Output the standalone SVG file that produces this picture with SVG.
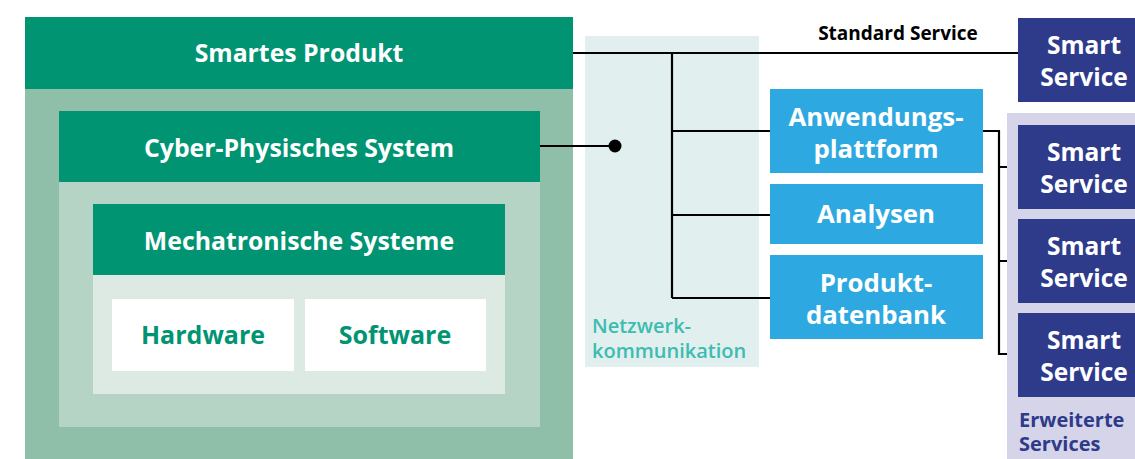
<svg xmlns="http://www.w3.org/2000/svg" width="1135" height="459" viewBox="0 0 1135 459">
  <style>
    .t { font-family: "Open Sans", "Noto Sans", "Liberation Sans", sans-serif; font-weight: 700; text-anchor: middle; }
    .w { fill: #ffffff; font-size: 24.8px; }
    .g { fill: #009473; font-size: 25px; }
    .b { fill: #ffffff; font-size: 25.8px; }
    .s { fill: #ffffff; font-size: 24.5px; }
    .lbl { font-family: "Open Sans", "Noto Sans", "Liberation Sans", sans-serif; font-weight: 700; font-size: 20px; }
    .wire { fill: none; stroke: #000000; stroke-width: 2.2; }
  </style>
  <rect width="1135" height="459" fill="#ffffff"/>

  <!-- smart product stack -->
  <g id="smartes-produkt">
    <rect x="25" y="89" width="548" height="370" fill="#8fbfa8"/>
    <rect x="25" y="17" width="548" height="72" fill="#009473"/>
    <text class="t w" x="299" y="62">Smartes Produkt</text>
  </g>
  <g id="cps">
    <rect x="59" y="182" width="481" height="245" fill="#b6d4c6"/>
    <rect x="59" y="111" width="481" height="71" fill="#009473"/>
    <text class="t w" x="299" y="157">Cyber-Physisches System</text>
  </g>
  <g id="mechatronik">
    <rect x="93" y="275" width="412" height="119" fill="#dde9e3"/>
    <rect x="93" y="204" width="412" height="71" fill="#009473"/>
    <text class="t w" x="299" y="250">Mechatronische Systeme</text>
  </g>
  <g id="hardware">
    <rect x="112" y="299" width="182" height="72" fill="#ffffff"/>
    <text class="t g" x="203" y="344">Hardware</text>
  </g>
  <g id="software">
    <rect x="305" y="299" width="181" height="72" fill="#ffffff"/>
    <text class="t g" x="395" y="344">Software</text>
  </g>

  <!-- network band -->
  <g id="netzwerk">
    <rect x="585" y="36" width="174" height="331" fill="#e1efef"/>
    <text class="lbl" x="592" y="333" style="fill:#3dbcb0;font-weight:600">Netzwerk-</text>
    <text class="lbl" x="592" y="358" style="fill:#3dbcb0;font-weight:600">kommunikation</text>
  </g>

  <!-- connectors -->
  <g id="connectors">
    <path class="wire" d="M573 53 H1018"/>
    <path class="wire" d="M672 53 V298"/>
    <path class="wire" d="M672 131 H770 M672 215 H770 M672 298 H770"/>
    <path class="wire" d="M540 146 H615"/>
    <circle cx="615" cy="146" r="6.5" fill="#000000"/>
    <path class="wire" d="M983 131 H999 V354 H1018 M999 167 H1018 M999 261 H1018"/>
    <text class="lbl" x="898" y="40" style="font-size:19px;fill:#000000;text-anchor:middle">Standard Service</text>
  </g>

  <!-- platform services -->
  <g id="anwendungsplattform">
    <rect x="770" y="89" width="213" height="84" fill="#2ea8e1"/>
    <text class="t b" x="876" y="126">Anwendungs-</text>
    <text class="t b" x="876" y="158">plattform</text>
  </g>
  <g id="analysen">
    <rect x="770" y="184" width="213" height="60" fill="#2ea8e1"/>
    <text class="t b" x="876" y="223">Analysen</text>
  </g>
  <g id="produktdatenbank">
    <rect x="770" y="255" width="213" height="84" fill="#2ea8e1"/>
    <text class="t b" x="876" y="292">Produkt-</text>
    <text class="t b" x="876" y="324">datenbank</text>
  </g>

  <!-- smart services -->
  <g id="smart-service-standard">
    <rect x="1018" y="18" width="117" height="84" fill="#2e3a8a"/>
    <text class="t s" x="1084" y="54">Smart</text>
    <text class="t s" x="1084" y="86">Service</text>
  </g>
  <g id="erweiterte-services">
    <rect x="1007" y="113" width="128" height="346" fill="#d6d4e9"/>
    <text class="lbl" x="1019" y="427" style="fill:#2e3a8a">Erweiterte</text>
    <text class="lbl" x="1019" y="451" style="fill:#2e3a8a">Services</text>
  </g>
  <g id="smart-service-1">
    <rect x="1018" y="125" width="117" height="84" fill="#2e3a8a"/>
    <text class="t s" x="1084" y="161">Smart</text>
    <text class="t s" x="1084" y="193">Service</text>
  </g>
  <g id="smart-service-2">
    <rect x="1018" y="219" width="117" height="84" fill="#2e3a8a"/>
    <text class="t s" x="1084" y="255">Smart</text>
    <text class="t s" x="1084" y="287">Service</text>
  </g>
  <g id="smart-service-3">
    <rect x="1018" y="313" width="117" height="84" fill="#2e3a8a"/>
    <text class="t s" x="1084" y="349">Smart</text>
    <text class="t s" x="1084" y="381">Service</text>
  </g>
</svg>
